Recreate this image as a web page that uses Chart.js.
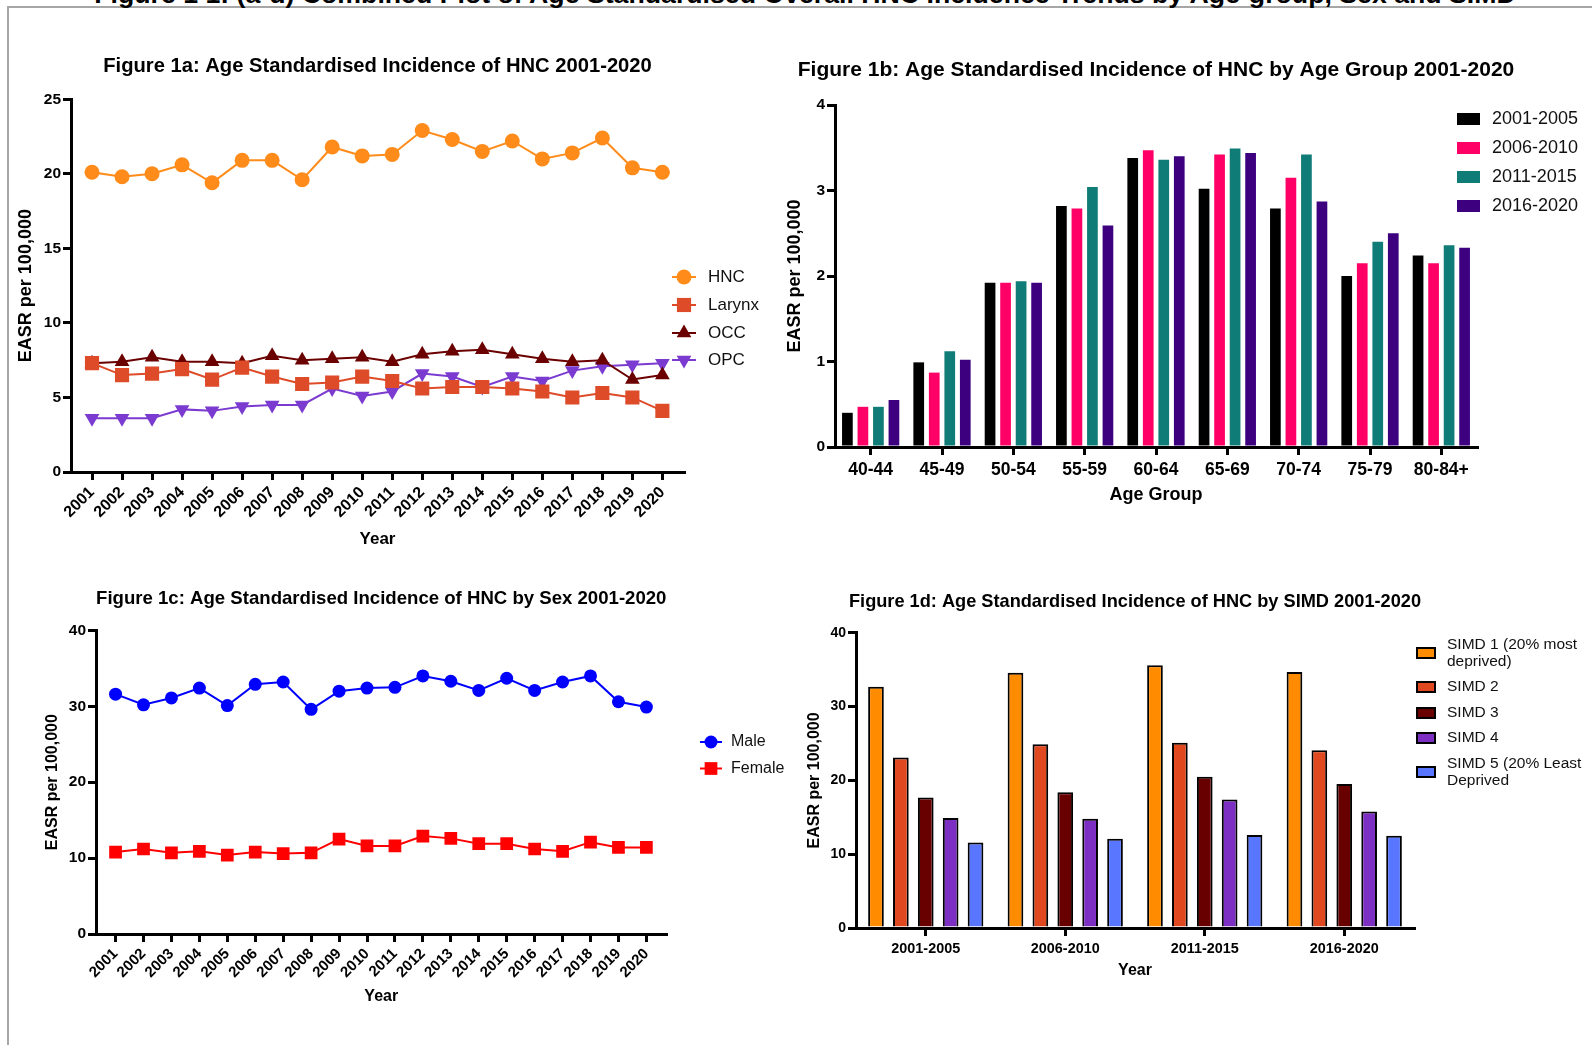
<!DOCTYPE html>
<html>
<head>
<meta charset="utf-8">
<script src="https://cdn.jsdelivr.net/npm/chart.js@4.4.1/dist/chart.umd.min.js"></script>
<style>
  body { margin: 0; background: #fff; }
  #page { position: relative; width: 1592px; height: 1045px; overflow: hidden; background: #fff; font-family: 'Liberation Sans', Arial, sans-serif; }
  #frame { position: absolute; left: 7px; top: 6px; width: 1700px; height: 1200px; border-top: 2px solid #a6a6a6; border-left: 2px solid #a6a6a6; }
  #mainTitle { position: absolute; left: 9px; top: -19px; width: 1592px; text-align: center; font-weight: bold; font-size: 26.7px; line-height: 26px; color: #000; white-space: nowrap; }
  canvas { position: absolute; }
</style>
</head>
<body>
<div id="page">
  <div id="frame"></div>
  <div id="mainTitle">Figure 1 1: (a-d) Combined Plot of Age Standardised Overall HNC Incidence Trends by Age-group, Sex and SIMD</div>
  <canvas id="fig1a" width="790" height="540" style="left:0;top:30px"></canvas>
  <canvas id="fig1b" width="812" height="490" style="left:780px;top:30px"></canvas>
  <canvas id="fig1c" width="790" height="460" style="left:0;top:570px"></canvas>
  <canvas id="fig1d" width="812" height="420" style="left:780px;top:570px"></canvas>
</div>
<script>
// ---- data ----
const years = [2001, 2002, 2003, 2004, 2005, 2006, 2007, 2008, 2009, 2010,
               2011, 2012, 2013, 2014, 2015, 2016, 2017, 2018, 2019, 2020];

// Figure 1a: EASR per 100,000 by site
const hnc    = [20.1, 19.8, 20.0, 20.6, 19.4, 20.9, 20.9, 19.6, 21.8, 21.2, 21.3, 22.9, 22.3, 21.5, 22.2, 21.0, 21.4, 22.4, 20.4, 20.1];
const larynx = [7.3, 6.5, 6.6, 6.9, 6.2, 7.0, 6.4, 5.9, 6.0, 6.4, 6.1, 5.6, 5.7, 5.7, 5.6, 5.4, 5.0, 5.3, 5.0, 4.1];
const occ    = [7.3, 7.4, 7.7, 7.4, 7.4, 7.3, 7.8, 7.5, 7.6, 7.7, 7.4, 7.9, 8.1, 8.2, 7.9, 7.6, 7.4, 7.5, 6.2, 6.5];
const opc    = [3.6, 3.6, 3.6, 4.2, 4.1, 4.4, 4.5, 4.5, 5.6, 5.1, 5.4, 6.6, 6.4, 5.7, 6.4, 6.1, 6.8, 7.1, 7.2, 7.3];

// Figure 1b: by age group
const ageGroups = ['40-44', '45-49', '50-54', '55-59', '60-64', '65-69', '70-74', '75-79', '80-84+'];
const age2001to2005 = [0.40, 0.99, 1.92, 2.82, 3.38, 3.02, 2.79, 2.00, 2.24];
const age2006to2010 = [0.47, 0.87, 1.92, 2.79, 3.47, 3.42, 3.15, 2.15, 2.15];
const age2011to2015 = [0.47, 1.12, 1.94, 3.04, 3.36, 3.49, 3.42, 2.40, 2.36];
const age2016to2020 = [0.55, 1.02, 1.92, 2.59, 3.40, 3.44, 2.87, 2.50, 2.33];

// Figure 1c: by sex
const male   = [31.6, 30.2, 31.1, 32.4, 30.1, 32.9, 33.2, 29.6, 32.0, 32.4, 32.5, 34.0, 33.3, 32.1, 33.7, 32.1, 33.2, 34.0, 30.6, 29.9];
const female = [10.8, 11.2, 10.7, 10.9, 10.4, 10.8, 10.6, 10.7, 12.5, 11.6, 11.6, 12.9, 12.6, 11.9, 11.9, 11.2, 10.9, 12.1, 11.4, 11.4];

// Figure 1d: by SIMD quintile
const periods = ['2001-2005', '2006-2010', '2011-2015', '2016-2020'];
const simd1 = [32.7, 34.6, 35.6, 34.7];
const simd2 = [23.1, 24.9, 25.1, 24.1];
const simd3 = [17.7, 18.4, 20.5, 19.5];
const simd4 = [14.9, 14.8, 17.4, 15.8];
const simd5 = [11.6, 12.1, 12.6, 12.5];

// ---- setup ----
const FAMILY = "'Liberation Sans', Arial, sans-serif";
Chart.defaults.font.family = FAMILY;
Chart.defaults.color = '#000';
Chart.defaults.animation = false;

const bold = size => ({ size: size, weight: 'bold' });
const xy = vals => vals.map((v, i) => ({ x: years[i], y: v }));

// split a legend label into lines no wider than maxWidth
function wrapText(ctx, text, maxWidth) {
    const words = text.split(' ');
    const lines = [];
    let cur = '';
    words.forEach(w => {
        const test = cur ? cur + ' ' + w : w;
        if (cur && ctx.measureText(test).width > maxWidth) {
            lines.push(cur);
            cur = w;
        } else {
            cur = test;
        }
    });
    lines.push(cur);
    return lines;
}

// let the title run past the plot area instead of being squeezed into it
const wideTitle = {
    id: 'wideTitle',
    afterLayout(chart) {
        const t = chart.titleBlock;
        if (t) {
            t.left -= 60;
            t.right += 60;
            t.width = t.right - t.left;
        }
    }
};

// legend drawn beside the plot, like the Prism style one
const sideLegend = {
    id: 'sideLegend',
    afterDraw(chart, args, opts) {
        if (!opts.ys) return;
        const ctx = chart.ctx;
        ctx.save();
        ctx.font = opts.fontSize + 'px ' + FAMILY;
        ctx.textBaseline = 'middle';
        ctx.textAlign = 'left';
        chart.data.datasets.forEach((ds, i) => {
            const y = opts.ys[i];
            if (opts.kind === 'line') {
                ctx.strokeStyle = ds.borderColor;
                ctx.lineWidth = ds.borderWidth;
                ctx.beginPath();
                ctx.moveTo(opts.markerX - opts.lineHalf, y);
                ctx.lineTo(opts.markerX + opts.lineHalf, y);
                ctx.stroke();
                ctx.fillStyle = ds.pointBackgroundColor;
                if (Chart.helpers && Chart.helpers.drawPoint) {
                    Chart.helpers.drawPoint(ctx, {
                        pointStyle: ds.pointStyle,
                        radius: ds.pointRadius,
                        rotation: ds.pointRotation || 0,
                        borderWidth: 0
                    }, opts.markerX, y);
                } else {
                    ctx.beginPath();
                    ctx.arc(opts.markerX, y, 6, 0, Math.PI * 2);
                    ctx.fill();
                }
            } else {
                ctx.fillStyle = ds.backgroundColor;
                ctx.fillRect(opts.boxX, y - opts.boxH / 2, opts.boxW, opts.boxH);
                if (opts.boxBorder) {
                    ctx.lineWidth = opts.boxBorder;
                    ctx.strokeStyle = '#000';
                    ctx.strokeRect(opts.boxX, y - opts.boxH / 2, opts.boxW, opts.boxH);
                }
            }
            ctx.fillStyle = '#111';
            const lines = wrapText(ctx, ds.label, opts.maxWidth || 1000);
            const lh = opts.lineHeight || opts.fontSize * 1.15;
            lines.forEach((ln, k) => {
                ctx.fillText(ln, opts.textX, y + (k - (lines.length - 1) / 2) * lh);
            });
        });
        ctx.restore();
    }
};

// common axis styling (black Prism axes, ticks outside, no grid)
function axisStyle() {
    return {
        grid: { drawOnChartArea: false, drawTicks: true, color: '#000', lineWidth: 3, tickLength: 8, offset: false },
        border: { display: true, color: '#000', width: 3 }
    };
}

function lineSet(label, vals, color, style, radius, rotation) {
    return {
        label: label,
        data: xy(vals),
        borderColor: color,
        backgroundColor: color,
        pointBackgroundColor: color,
        pointBorderColor: color,
        pointBorderWidth: 0,
        borderWidth: 2,
        pointStyle: style,
        pointRadius: radius,
        pointRotation: rotation || 0,
        tension: 0
    };
}

function yearAxis(height, titlePad, tickSize, titleSize) {
    return Object.assign(axisStyle(), {
        type: 'linear',
        min: 2000.3,
        max: 2020.72,
        afterBuildTicks: s => { s.ticks = years.map(v => ({ value: v })); },
        afterFit: s => { s.height = height; s.paddingLeft = 0; s.paddingRight = 0; },
        ticks: { autoSkip: false, minRotation: 45, maxRotation: 45, padding: 3, font: bold(tickSize), callback: v => String(v) },
        title: { display: true, text: 'Year', font: bold(titleSize), padding: { top: 0, bottom: titlePad } }
    });
}

function valueAxis(max, step, width, titlePad, tickSize, titleSize) {
    return Object.assign(axisStyle(), {
        min: 0,
        max: max,
        afterFit: s => { s.width = width; },
        ticks: { stepSize: step, padding: 2, font: bold(tickSize) },
        title: { display: true, text: 'EASR per 100,000', font: bold(titleSize), padding: { top: titlePad, bottom: 0 } }
    });
}

// ---- Figure 1a ----
new Chart(document.getElementById('fig1a').getContext('2d'), {
    type: 'line',
    data: {
        datasets: [
            lineSet('HNC', hnc, '#FF8C1A', 'circle', 7.5),
            lineSet('Larynx', larynx, '#DE4B28', 'rect', 10),
            lineSet('OCC', occ, '#6B0000', 'triangle', 8.5),
            lineSet('OPC', opc, '#7B3BD0', 'triangle', 8.5, 180)
        ]
    },
    options: {
        responsive: false,
        devicePixelRatio: 1,
        layout: { padding: { left: 0, right: 106, top: 0, bottom: 0 } },
        plugins: {
            legend: { display: false },
            tooltip: { enabled: false },
            title: { display: true, fullSize: false, text: 'Figure 1a: Age Standardised Incidence of HNC 2001-2020', font: bold(20.2), color: '#000', padding: { top: 24, bottom: 21 } },
            sideLegend: { kind: 'line', ys: [247, 275, 303, 330], markerX: 684, lineHalf: 12, textX: 708, fontSize: 17 }
        },
        scales: {
            x: yearAxis(98, 20.8, 16, 17),
            y: valueAxis(25, 5, 71, 15.2, 15.5, 18)
        }
    },
    plugins: [sideLegend, wideTitle]
});

// ---- Figure 1b ----
function barSet(label, vals, color) {
    return { label: label, data: vals, backgroundColor: color, borderWidth: 0 };
}

new Chart(document.getElementById('fig1b').getContext('2d'), {
    type: 'bar',
    data: {
        labels: ageGroups,
        datasets: [
            barSet('2001-2005', age2001to2005, '#000000'),
            barSet('2006-2010', age2006to2010, '#FF0066'),
            barSet('2011-2015', age2011to2015, '#107C78'),
            barSet('2016-2020', age2016to2020, '#3D007F')
        ]
    },
    options: {
        responsive: false,
        devicePixelRatio: 1,
        datasets: { bar: { categoryPercentage: 0.87, barPercentage: 0.69 } },
        layout: { padding: { left: 0, right: 115, top: 0, bottom: 0 } },
        plugins: {
            legend: { display: false },
            tooltip: { enabled: false },
            title: { display: true, fullSize: false, text: 'Figure 1b: Age Standardised Incidence of HNC by Age Group 2001-2020', font: bold(21), color: '#000', padding: { top: 27.4, bottom: 22.4 } },
            sideLegend: { kind: 'box', ys: [89, 118, 147, 176], boxX: 677, boxW: 23, boxH: 12, textX: 712, fontSize: 18 }
        },
        scales: {
            x: Object.assign(axisStyle(), {
                afterFit: s => { s.height = 73; s.paddingLeft = 0; s.paddingRight = 0; },
                ticks: { padding: 5, font: bold(17.5) },
                title: { display: true, text: 'Age Group', font: bold(18), padding: { top: 0, bottom: 13.7 } }
            }),
            y: valueAxis(4, 1, 55, 4.2, 15.5, 18)
        }
    },
    plugins: [sideLegend, wideTitle]
});

// ---- Figure 1c ----
new Chart(document.getElementById('fig1c').getContext('2d'), {
    type: 'line',
    data: {
        datasets: [
            lineSet('Male', male, '#0000FF', 'circle', 6.5),
            lineSet('Female', female, '#FF0000', 'rect', 9)
        ]
    },
    options: {
        responsive: false,
        devicePixelRatio: 1,
        layout: { padding: { left: 0, right: 123.5, top: 0, bottom: 0 } },
        plugins: {
            legend: { display: false },
            tooltip: { enabled: false },
            title: { display: true, fullSize: false, text: 'Figure 1c: Age Standardised Incidence of HNC by Sex 2001-2020', font: bold(18.6), color: '#000', padding: { top: 17.8, bottom: 20.3 } },
            sideLegend: { kind: 'line', ys: [172, 198.5], markerX: 711, lineHalf: 11, textX: 731, fontSize: 16 }
        },
        scales: {
            x: yearAxis(96, 23.4, 15, 16),
            y: valueAxis(40, 10, 96, 43.4, 15.5, 16)
        }
    },
    plugins: [sideLegend, wideTitle]
});

// ---- Figure 1d ----
function simdSet(label, vals, color) {
    return { label: label, data: vals, backgroundColor: color, borderColor: '#000', borderWidth: 2 };
}

new Chart(document.getElementById('fig1d').getContext('2d'), {
    type: 'bar',
    data: {
        labels: periods,
        datasets: [
            simdSet('SIMD 1 (20% most deprived)', simd1, '#FF8C00'),
            simdSet('SIMD 2', simd2, '#E0491F'),
            simdSet('SIMD 3', simd3, '#690000'),
            simdSet('SIMD 4', simd4, '#7C2FC2'),
            simdSet('SIMD 5 (20% Least Deprived', simd5, '#5876FF')
        ]
    },
    options: {
        responsive: false,
        devicePixelRatio: 1,
        datasets: { bar: { categoryPercentage: 0.892, barPercentage: 0.63 } },
        layout: { padding: { left: 0, right: 178, top: 0, bottom: 0 } },
        plugins: {
            legend: { display: false },
            tooltip: { enabled: false },
            title: { display: true, fullSize: false, text: 'Figure 1d: Age Standardised Incidence of HNC by SIMD 2001-2020', font: bold(18.2), color: '#000', padding: { top: 21, bottom: 20 } },
            sideLegend: { kind: 'box', ys: [83, 117, 143, 168, 202], boxX: 637, boxW: 18, boxH: 10, boxBorder: 2, textX: 667, fontSize: 15.5, lineHeight: 17, maxWidth: 140 }
        },
        scales: {
            x: Object.assign(axisStyle(), {
                afterFit: s => { s.height = 62; s.paddingLeft = 0; s.paddingRight = 0; },
                ticks: { padding: 4, font: bold(14.4) },
                title: { display: true, text: 'Year', font: bold(16), padding: { top: 0, bottom: 9.4 } }
            }),
            y: valueAxis(40, 10, 76, 25.4, 14, 16)
        }
    },
    plugins: [sideLegend, wideTitle]
});
</script>
</body>
</html>
